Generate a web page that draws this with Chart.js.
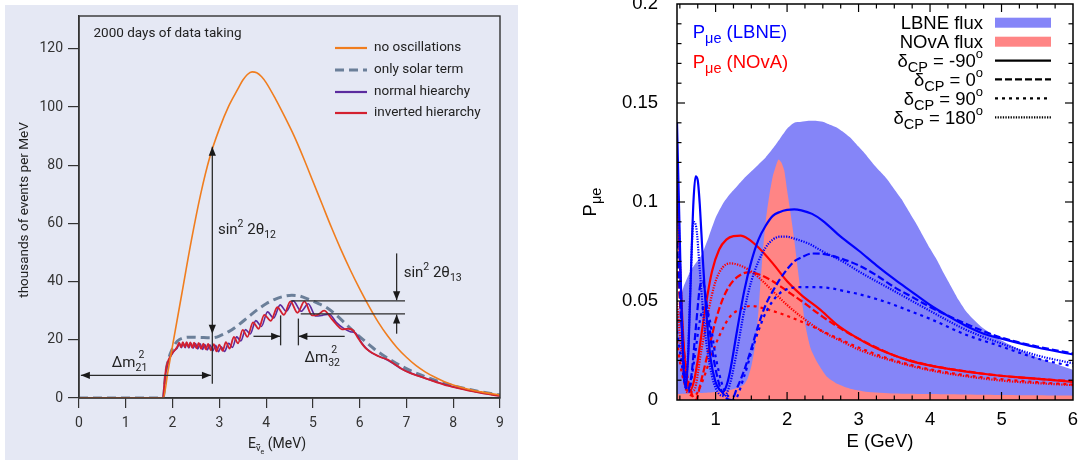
<!DOCTYPE html>
<html>
<head>
<meta charset="utf-8">
<script src="https://cdn.jsdelivr.net/npm/chart.js@4.4.1/dist/chart.umd.min.js"></script>
<style>
  html, body { margin: 0; padding: 0; background: #fff; width: 1087px; height: 461px; overflow: hidden; }
  #left { position: absolute; left: 0; top: 0; }
  #right { position: absolute; left: 540px; top: 0; }
</style>
</head>
<body>
<canvas id="left" width="530" height="461"></canvas>
<canvas id="right" width="547" height="461"></canvas>
<script>
// ---------- left panel: reactor spectrum, thousands of events per MeV ----------
const leftXTicks = [0, 1, 2, 3, 4, 5, 6, 7, 8, 9];
const leftYTicks = [0, 20, 40, 60, 80, 100, 120];

const noOscE = [0,1.8,1.9,2.0,2.2,2.4,2.6,2.8,3.0,3.2,3.4,3.5,3.6,3.7,3.8,3.9,4.0,4.2,4.4,4.6,4.8,5.0,
  5.2,5.4,5.6,5.8,6.0,6.2,6.4,6.6,6.8,7.0,7.2,7.4,7.6,7.8,8.0,8.3,8.6,9.0];
const noOscN = [0,0,9,18,36,54,70,83,92.5,100.3,106.3,109.2,111.2,112.1,111.8,110.5,108.4,102.8,96.6,90,82.5,74.5,
  66.5,58.5,51,44,37.5,31.5,26,21.3,17.3,14,11.2,9,7.2,5.7,4.5,3.1,2.1,1.0];

const solarE = [0,1.8,1.85,1.9,2.0,2.1,2.2,2.4,2.6,2.8,2.9,3.0,3.2,3.4,3.6,3.8,4.0,4.2,4.4,4.55,
  4.7,4.9,5.1,5.3,5.5,5.7,5.9,6.1,6.3,6.5,6.7,6.9,7.1,7.4,7.7,8.0,8.5,9.0];
const solarN = [0,0,8,12.5,17,19.5,20.5,20.9,20.8,20.7,20.8,21.3,22.8,25.0,27.6,30.2,32.4,34.0,35.0,35.3,
  35.1,34.0,32.6,31.0,28.5,25.5,22.5,19.7,17.0,14.7,12.7,10.9,9.3,7.3,5.6,4.2,2.4,1.0];

const normalE = [0,1.8,1.82,1.85,1.9,1.95,2.0,2.05,2.1,2.15,
  2.19,2.23,2.27,2.31,2.35,2.39,2.44,2.49,2.54,2.59,
  2.64,2.69,2.74,2.8,2.86,2.92,2.98,3.04,3.11,3.2,
  3.28,3.37,3.46,3.56,3.66,3.78,3.9,4.03,4.16,4.3,
  4.43,4.58,4.75,4.9,5.06,5.2,5.35,5.5,5.65,5.8,
  5.92,6.02,6.12,6.25,6.4,6.55,6.7,6.85,7.0,7.2,
  7.5,7.8,8.1,8.5,9.0];
const normalN = [0,0,3.5,8,12,14,15.4,16.4,17.2,18.7,
  17.3,18.9,17.3,18.9,17.2,18.8,17.1,18.7,16.9,18.6,
  16.7,18.4,16.5,18.3,16.2,18.1,15.9,17.6,16.0,18.8,
  17.4,21.0,19.6,23.5,22.0,26.6,24.6,29.6,27.5,32.0,
  29.8,33.4,29.8,32.4,28.2,28.4,28.8,26.0,24.0,22.8,
  22.2,19.5,17.4,15.6,14.4,13.4,12.0,10.4,9.2,7.9,
  6.3,4.7,3.5,2.1,0.8];

const invertedE = [0,1.8,1.82,1.85,1.9,1.95,2.0,2.05,2.1,2.14,
  2.18,2.22,2.26,2.30,2.34,2.38,2.42,2.46,2.51,2.56,
  2.61,2.66,2.71,2.76,2.82,2.88,2.94,3.0,3.07,3.14,
  3.22,3.31,3.4,3.5,3.6,3.72,3.84,3.96,4.1,4.24,
  4.38,4.52,4.67,4.82,4.98,5.1,5.24,5.4,5.52,5.62,
  5.75,5.85,5.95,6.05,6.15,6.3,6.45,6.6,6.75,6.9,
  7.05,7.25,7.5,7.8,8.1,8.5,9.0];
const invertedN = [0,0,4,9,12.5,14.2,15.6,16.5,17.6,19.0,
  17.4,19.2,17.5,19.2,17.4,19.1,17.3,19.0,17.1,18.9,
  16.9,18.7,16.7,18.6,16.4,18.5,16.0,18.3,16.2,19.2,
  17.0,21.0,18.8,23.4,21.0,26.0,23.8,28.6,26.5,31.2,
  28.6,33.2,29.3,33.2,28.4,28.6,30.0,27.2,25.0,23.6,
  23.8,23.4,21.0,18.6,16.8,15.2,14.0,13.2,11.6,10.0,
  8.8,7.6,6.2,4.6,3.4,2.0,0.7];

// ---------- right panel: appearance probability vs E (GeV) ----------
const rightXTicks = [1, 2, 3, 4, 5, 6];
const rightYTicks = [0, 0.05, 0.1, 0.15, 0.2];

const lbneE = [0.46,0.5,0.55,0.62,0.7,0.8,0.9,1.0,1.1,1.2,1.3,1.4,1.5,1.6,1.7,1.8,1.9,2.0,2.1,2.2,
  2.3,2.4,2.5,2.6,2.7,2.8,2.9,3.0,3.1,3.2,3.3,3.4,3.5,3.6,3.7,3.8,3.9,4.0,4.1,4.2,
  4.3,4.4,4.5,4.6,4.7,4.8,4.9,5.0,5.25,5.5,5.75,6.0];
const lbneFlux = [0.04,0.05,0.057,0.063,0.068,0.073,0.082,0.092,0.099,0.104,0.108,0.112,0.1155,0.119,0.1225,0.127,0.132,0.137,0.14,0.1405,
  0.141,0.141,0.1405,0.139,0.1375,0.135,0.132,0.128,0.124,0.1195,0.1155,0.1115,0.1065,0.1015,0.0955,0.0895,0.083,0.0765,0.0705,0.0635,
  0.057,0.0505,0.045,0.041,0.0375,0.0348,0.0322,0.03,0.0255,0.0215,0.0183,0.0152];

const novaE = [0.46,0.8,1.0,1.2,1.3,1.4,1.45,1.5,1.55,1.6,1.65,1.7,1.75,1.8,1.85,1.88,1.92,1.96,2.0,2.05,
  2.1,2.15,2.2,2.26,2.33,2.43,2.55,2.7,2.9,3.1,3.5,4.0,5.0,6.0];
const novaFlux = [0.003,0.0035,0.004,0.005,0.006,0.008,0.011,0.017,0.027,0.045,0.07,0.09,0.103,0.113,0.119,0.1215,0.12,0.116,0.106,0.094,
  0.081,0.066,0.052,0.037,0.026,0.0185,0.012,0.0082,0.0055,0.0042,0.0033,0.003,0.0025,0.0022];

const lbneM90E = [0.46,0.5,0.54,0.58,0.62,0.66,0.69,0.72,0.75,0.78,0.82,0.87,0.93,1.0,1.06,1.1,1.15,1.2,1.3,1.4,
  1.5,1.6,1.7,1.8,1.9,2.0,2.1,2.2,2.35,2.5,2.75,3.0,3.25,3.5,3.75,4.0,4.25,4.5,4.75,5.0,5.5,6.0];
const lbneM90P = [0.14,0.08,0.025,0.006,0.025,0.07,0.1,0.113,0.111,0.098,0.072,0.044,0.021,0.009,0.005,0.004,0.007,0.014,0.035,0.055,
  0.07,0.081,0.088,0.093,0.095,0.096,0.0963,0.0958,0.094,0.0905,0.0825,0.0755,0.068,0.061,0.0545,0.048,0.0425,0.0375,0.0335,0.031,0.0265,0.023];

const lbne0E = [0.46,0.52,0.57,0.61,0.66,0.72,0.78,0.82,0.88,0.95,1.05,1.15,1.22,1.3,1.4,1.5,1.6,1.7,1.8,1.9,
  2.0,2.1,2.2,2.35,2.5,2.75,3.0,3.25,3.5,3.75,4.0,4.5,5.0,5.5,6.0];
const lbne0P = [0.08,0.04,0.012,0.005,0.012,0.035,0.057,0.06,0.047,0.026,0.008,0.001,0.0,0.006,0.015,0.026,0.038,0.048,0.055,0.061,
  0.066,0.07,0.072,0.074,0.0738,0.0715,0.068,0.063,0.057,0.052,0.047,0.0385,0.0315,0.027,0.0235];

const lbne90E = [0.46,0.52,0.57,0.62,0.7,0.78,0.85,0.92,1.0,1.1,1.2,1.26,1.4,1.5,1.6,1.7,1.8,1.9,2.0,2.2,
  2.4,2.6,2.8,3.0,3.25,3.5,3.75,4.0,4.5,5.0,5.5,6.0];
const lbne90P = [0.035,0.02,0.008,0.004,0.02,0.04,0.048,0.04,0.022,0.007,0.001,0.0,0.012,0.024,0.035,0.044,0.05,0.054,0.056,0.057,
  0.057,0.0565,0.055,0.0535,0.051,0.048,0.0445,0.041,0.033,0.027,0.021,0.017];

const lbne180E = [0.46,0.52,0.57,0.61,0.65,0.69,0.73,0.78,0.85,0.95,1.05,1.12,1.2,1.3,1.4,1.5,1.6,1.7,1.8,1.9,
  2.0,2.1,2.3,2.5,2.8,3.0,3.5,4.0,4.5,5.0,5.5,6.0];
const lbne180P = [0.12,0.05,0.01,0.02,0.06,0.09,0.087,0.065,0.035,0.012,0.003,0.002,0.008,0.025,0.045,0.06,0.07,0.077,0.081,0.0825,
  0.0825,0.0815,0.079,0.075,0.0695,0.065,0.055,0.045,0.0355,0.0285,0.0225,0.0185];

const novaM90E = [0.46,0.5,0.55,0.6,0.65,0.7,0.75,0.85,0.95,1.05,1.15,1.25,1.35,1.45,1.6,1.8,2.0,2.2,2.45,2.7,
  2.95,3.2,3.5,3.8,4.3,4.8,5.4,6.0];
const novaM90P = [0.11,0.07,0.03,0.01,0.005,0.01,0.02,0.045,0.065,0.076,0.081,0.0828,0.083,0.0815,0.077,0.069,0.06,0.053,0.046,0.038,
  0.032,0.027,0.0225,0.019,0.0155,0.013,0.011,0.0092];

const nova0E = [0.46,0.52,0.58,0.65,0.72,0.8,0.9,1.0,1.1,1.2,1.3,1.45,1.6,1.8,2.0,2.2,2.5,2.8,3.0,3.5,
  4.0,4.5,5.0,5.5,6.0];
const nova0P = [0.07,0.04,0.018,0.005,0.0,0.01,0.025,0.04,0.051,0.058,0.062,0.0645,0.0635,0.06,0.055,0.05,0.042,0.035,0.031,0.0225,
  0.0175,0.0145,0.0122,0.0107,0.0095];

const nova90E = [0.46,0.52,0.6,0.7,0.8,0.9,1.0,1.1,1.2,1.35,1.5,1.7,2.0,2.3,2.6,3.0,3.5,4.0,4.5,5.0,5.5,6.0];
const nova90P = [0.03,0.015,0.005,0.002,0.008,0.018,0.028,0.036,0.042,0.046,0.0475,0.046,0.0425,0.038,0.033,0.0265,0.02,0.0155,0.0125,0.0105,0.009,0.0078];

const nova180E = [0.46,0.52,0.6,0.7,0.8,0.9,1.0,1.1,1.2,1.3,1.45,1.6,1.8,2.0,2.2,2.5,2.8,3.0,3.5,4.0,4.5,5.0,5.5,6.0];
const nova180P = [0.05,0.025,0.004,0.005,0.025,0.045,0.06,0.067,0.069,0.0685,0.066,0.062,0.055,0.048,0.042,0.0345,0.029,0.0255,0.0195,0.015,0.012,0.0098,0.0085,0.0075];

const cpLabels = ['-90', '0', '90', '180'];

// ---------- helpers ----------
const pts = (xs, ys) => xs.map((x, i) => ({ x: x, y: ys[i] }));

// draws text made of parts (sub/superscripts); y is the baseline
function rich(ctx, parts, x, y, align, family, color) {
  let w = 0;
  const items = parts.map(p => {
    ctx.font = p.s + 'px "' + family + '"';
    const width = ctx.measureText(p.t).width;
    const it = Object.assign({}, p, { width: width, off: w });
    if (!p.stack) w += width;
    return it;
  });
  const x0 = align === 'right' ? x - w : align === 'center' ? x - w / 2 : x;
  ctx.fillStyle = color;
  ctx.textAlign = 'left';
  ctx.textBaseline = 'alphabetic';
  items.forEach(it => {
    ctx.font = it.s + 'px "' + family + '"';
    const tx = x0 + it.off + (it.dx || 0), ty = y + (it.dy || 0);
    ctx.fillText(it.t, tx, ty);
    if (it.bar) ctx.fillRect(tx + 0.5, ty - it.s * 0.72, it.width - 1, 0.9);
  });
}

function head(ctx, x, y, dir) {
  const L = 9, H = 3.6;
  ctx.beginPath();
  ctx.moveTo(x, y);
  if (dir === 'up') { ctx.lineTo(x - H, y + L); ctx.lineTo(x + H, y + L); }
  if (dir === 'down') { ctx.lineTo(x - H, y - L); ctx.lineTo(x + H, y - L); }
  if (dir === 'left') { ctx.lineTo(x + L, y - H); ctx.lineTo(x + L, y + H); }
  if (dir === 'right') { ctx.lineTo(x - L, y - H); ctx.lineTo(x - L, y + H); }
  ctx.closePath();
  ctx.fill();
}

// ---------- left chart ----------
const LF = 'Roboto';
const leftDecor = {
  id: 'leftDecor',
  beforeDraw(chart) {
    const ctx = chart.ctx;
    ctx.save();
    ctx.fillStyle = '#e5e8f4';
    ctx.fillRect(5, 5, 513, 455);
    ctx.restore();
  },
  afterDraw(chart) {
    const ctx = chart.ctx, a = chart.chartArea;
    const X = v => chart.scales.x.getPixelForValue(v);
    const Y = v => chart.scales.y.getPixelForValue(v);
    ctx.save();
    ctx.strokeStyle = '#333';
    ctx.lineWidth = 1.4;
    ctx.strokeRect(a.left, a.top, a.right - a.left, a.bottom - a.top);

    // annotation lines and arrows (in data units)
    ctx.strokeStyle = '#2b2b2b';
    ctx.fillStyle = '#1a1a1a';
    ctx.lineWidth = 1.3;
    const seg = (x1, y1, x2, y2) => {
      ctx.beginPath(); ctx.moveTo(X(x1), Y(y1)); ctx.lineTo(X(x2), Y(y2)); ctx.stroke();
    };
    seg(2.85, 4.9, 2.85, 86.4);
    head(ctx, X(2.85), Y(86.4), 'up');
    head(ctx, X(2.85), Y(22.1), 'down');
    seg(0.04, 7.8, 2.82, 7.8);
    head(ctx, X(0.04), Y(7.8), 'left');
    head(ctx, X(2.82), Y(7.8), 'right');
    seg(3.73, 21.2, 4.3, 21.2);
    head(ctx, X(4.3), Y(21.2), 'right');
    seg(4.31, 18.1, 4.31, 28.4);
    seg(4.69, 18.1, 4.69, 27.3);
    seg(5.68, 21.2, 4.69, 21.2);
    head(ctx, X(4.69), Y(21.2), 'left');
    seg(4.53, 33.4, 6.97, 33.4);
    seg(4.74, 28.9, 6.97, 28.9);
    seg(6.79, 49.7, 6.79, 33.6);
    head(ctx, X(6.79), Y(33.6), 'down');
    seg(6.79, 22.1, 6.79, 28.7);
    head(ctx, X(6.79), Y(28.7), 'up');

    const c = '#222';
    rich(ctx, [{ t: 'sin', s: 15 }, { t: '2', s: 10.5, dy: -7 }, { t: ' 2θ', s: 15 }, { t: '12', s: 10.5, dy: 4 }],
      X(2.97), Y(56.5), 'left', LF, c);
    rich(ctx, [{ t: 'sin', s: 15 }, { t: '2', s: 10.5, dy: -7 }, { t: ' 2θ', s: 15 }, { t: '13', s: 10.5, dy: 4 }],
      X(6.94), Y(41.6), 'left', LF, c);
    rich(ctx, [{ t: 'Δm', s: 15 }, { t: '2', s: 10.5, dy: -9, dx: 3, stack: true }, { t: '21', s: 10.5, dy: 4 }],
      X(0.7), Y(10.7), 'left', LF, c);
    rich(ctx, [{ t: 'Δm', s: 15 }, { t: '2', s: 10.5, dy: -9, dx: 3, stack: true }, { t: '32', s: 10.5, dy: 4 }],
      X(4.82), Y(12.4), 'left', LF, c);

    // header and legend
    ctx.fillStyle = c;
    ctx.font = '13.5px "' + LF + '"';
    ctx.textAlign = 'left';
    ctx.textBaseline = 'alphabetic';
    ctx.fillText('2000 days of data taking', 93.5, 36.5);
    const rows = [51, 73, 95, 116];
    chart.data.datasets.forEach((ds, i) => {
      const ly = rows[i] - 3;
      ctx.save();
      ctx.strokeStyle = ds.borderColor;
      ctx.lineWidth = ds.borderDash ? 3 : 2.2;
      ctx.setLineDash(ds.borderDash || []);
      ctx.beginPath(); ctx.moveTo(335, ly); ctx.lineTo(367, ly); ctx.stroke();
      ctx.restore();
      ctx.fillStyle = c;
      ctx.font = '13.5px "' + LF + '"';
      ctx.fillText(ds.label, 374, rows[i]);
    });

    // axis titles
    ctx.save();
    ctx.translate(24.5, 210);
    ctx.rotate(-Math.PI / 2);
    ctx.textAlign = 'center';
    ctx.textBaseline = 'middle';
    ctx.font = '13.5px "' + LF + '"';
    ctx.fillText('thousands of events per MeV', 0, 0);
    ctx.restore();
    rich(ctx, [{ t: 'E', s: 14 }, { t: 'ν', s: 9.5, dy: 3, bar: true }, { t: 'e', s: 7, dy: 6 }, { t: ' (MeV)', s: 14 }],
      277, 448, 'center', LF, c);
    ctx.restore();
  }
};

new Chart(document.getElementById('left'), {
  type: 'line',
  data: {
    datasets: [
      { label: 'no oscillations', data: pts(noOscE, noOscN), borderColor: '#f07d1e', borderWidth: 1.6 },
      { label: 'only solar term', data: pts(solarE, solarN), borderColor: '#6b7f99', borderWidth: 3, borderDash: [9, 5], order: 5 },
      { label: 'normal hiearchy', data: pts(normalE, normalN), borderColor: '#5b2b9e', borderWidth: 1.6, order: 2 },
      { label: 'inverted hierarchy', data: pts(invertedE, invertedN), borderColor: '#d3202f', borderWidth: 1.8, order: 1 }
    ]
  },
  options: {
    responsive: false,
    animation: false,
    layout: { padding: { left: 0, top: 16, right: 30, bottom: 0 } },
    plugins: { legend: { display: false }, tooltip: { enabled: false } },
    elements: { point: { radius: 0 }, line: { cubicInterpolationMode: 'monotone', fill: false } },
    scales: {
      x: {
        type: 'linear', min: 0, max: 9,
        afterBuildTicks: s => { s.ticks = leftXTicks.map(v => ({ value: v })); },
        afterFit: s => { s.height = 63; },
        grid: { drawOnChartArea: false, tickLength: 10, color: '#333', lineWidth: 1.2 },
        border: { color: '#333', width: 1.4 },
        ticks: { font: { family: LF, size: 14 }, color: '#333', padding: 7, maxRotation: 0 }
      },
      y: {
        type: 'linear', min: 0, max: 131.3,
        afterBuildTicks: s => { s.ticks = leftYTicks.map(v => ({ value: v })); },
        afterFit: s => { s.width = 79; },
        grid: { drawOnChartArea: false, tickLength: 11, color: '#333', lineWidth: 1.2 },
        border: { color: '#333', width: 1.4 },
        ticks: { font: { family: LF, size: 14 }, color: '#333', padding: 5 }
      }
    }
  },
  plugins: [leftDecor]
});

// ---------- right chart ----------
const RF = 'Liberation Sans';
const cpDash = [[], [7, 3], [3, 4], [1.3, 1.3]];

const rightDecor = {
  id: 'rightDecor',
  afterDraw(chart) {
    const ctx = chart.ctx, a = chart.chartArea;
    const X = v => chart.scales.x.getPixelForValue(v);
    const Y = v => chart.scales.y.getPixelForValue(v);
    ctx.save();
    ctx.strokeStyle = '#000';
    ctx.lineWidth = 1.2;
    const tick = (x1, y1, x2, y2) => { ctx.beginPath(); ctx.moveTo(x1, y1); ctx.lineTo(x2, y2); ctx.stroke(); };
    for (let v = 0.5; v < 6; v += 0.25) {
      const big = rightXTicks.includes(v), L = big ? 8 : 4.5;
      tick(X(v), a.bottom, X(v), a.bottom - L);
      tick(X(v), a.top, X(v), a.top + L);
    }
    for (let k = 1; k < 20; k++) {
      const v = k / 100, L = k % 5 === 0 ? 8 : 4.5;
      tick(a.left, Y(v), a.left + L, Y(v));
      tick(a.right, Y(v), a.right - L, Y(v));
    }
    ctx.lineWidth = 1.5;
    ctx.strokeRect(a.left, a.top, a.right - a.left, a.bottom - a.top);

    // legend
    const tx = 443, sx1 = 455, sx2 = 511;
    const fluxes = chart.data.datasets.slice(0, 2);
    [22.7, 41.7].forEach((ry, i) => {
      rich(ctx, [{ t: fluxes[i].label, s: 18.5 }], tx, ry + 6.5, 'right', RF, '#000');
      ctx.fillStyle = fluxes[i].backgroundColor;
      ctx.fillRect(sx1, ry - 5, sx2 - sx1, 10);
    });
    [60.7, 79.3, 98.3, 117.3].forEach((ry, i) => {
      rich(ctx, [{ t: 'δ', s: 18.5 }, { t: 'CP', s: 14.5, dy: 5 }, { t: ' = ' + cpLabels[i], s: 18.5 }, { t: 'o', s: 13, dy: -9 }],
        tx, ry + 6.5, 'right', RF, '#000');
      ctx.save();
      ctx.strokeStyle = '#000';
      ctx.lineWidth = 2.2;
      ctx.setLineDash(cpDash[i]);
      ctx.beginPath(); ctx.moveTo(sx1, ry); ctx.lineTo(sx2, ry); ctx.stroke();
      ctx.restore();
    });

    // in-plot labels
    rich(ctx, [{ t: 'P', s: 18.5 }, { t: 'μe', s: 14.5, dy: 5 }, { t: ' (LBNE)', s: 18.5 }], 152.7, 38, 'left', RF, '#0000ff');
    rich(ctx, [{ t: 'P', s: 18.5 }, { t: 'μe', s: 14.5, dy: 5 }, { t: ' (NOvA)', s: 18.5 }], 152.7, 68, 'left', RF, '#ff0000');

    // axis titles
    rich(ctx, [{ t: 'E (GeV)', s: 18.5 }], 340, 447, 'center', RF, '#000');
    ctx.save();
    ctx.translate(56, 202);
    ctx.rotate(-Math.PI / 2);
    rich(ctx, [{ t: 'P', s: 18.5 }, { t: 'μe', s: 14.5, dy: 5 }], 0, 0, 'center', RF, '#000');
    ctx.restore();
    ctx.restore();
  }
};

const line = (xs, ys, color, i, ord) => ({
  data: pts(xs, ys), borderColor: color, borderWidth: 2.2, borderDash: cpDash[i],
  fill: false, order: ord, cubicInterpolationMode: 'monotone'
});

new Chart(document.getElementById('right'), {
  type: 'line',
  data: {
    datasets: [
      { label: 'LBNE flux', data: pts(lbneE, lbneFlux), fill: 'origin', backgroundColor: '#8585f8', borderWidth: 0, order: 20 },
      { label: 'NOvA flux', data: pts(novaE, novaFlux), fill: 'origin', backgroundColor: '#ff8585', borderWidth: 0, order: 19 },
      line(novaM90E, novaM90P, '#ff0000', 0, 8),
      line(nova0E, nova0P, '#ff0000', 1, 8),
      line(nova90E, nova90P, '#ff0000', 2, 8),
      line(nova180E, nova180P, '#ff0000', 3, 8),
      line(lbneM90E, lbneM90P, '#0000ff', 0, 1),
      line(lbne0E, lbne0P, '#0000ff', 1, 1),
      line(lbne90E, lbne90P, '#0000ff', 2, 1),
      line(lbne180E, lbne180P, '#0000ff', 3, 1)
    ]
  },
  options: {
    responsive: false,
    animation: false,
    layout: { padding: { left: 0, top: 4, right: 14, bottom: 0 } },
    plugins: { legend: { display: false }, tooltip: { enabled: false } },
    elements: { point: { radius: 0 }, line: { tension: 0.2 } },
    scales: {
      x: {
        type: 'linear', min: 0.46, max: 6,
        afterBuildTicks: s => { s.ticks = rightXTicks.map(v => ({ value: v })); },
        afterFit: s => { s.height = 61; s.paddingLeft = 0; s.paddingRight = 0; },
        grid: { display: false },
        border: { display: false },
        ticks: { font: { family: RF, size: 18.5 }, color: '#000', padding: 1, maxRotation: 0 }
      },
      y: {
        type: 'linear', min: 0, max: 0.2,
        afterBuildTicks: s => { s.ticks = rightYTicks.map(v => ({ value: v })); },
        afterFit: s => { s.width = 137; s.paddingTop = 0; s.paddingBottom = 0; },
        grid: { display: false },
        border: { display: false },
        ticks: { font: { family: RF, size: 18.5 }, color: '#000', padding: 11, callback: v => String(v) }
      }
    }
  },
  plugins: [rightDecor]
});
</script>
</body>
</html>
